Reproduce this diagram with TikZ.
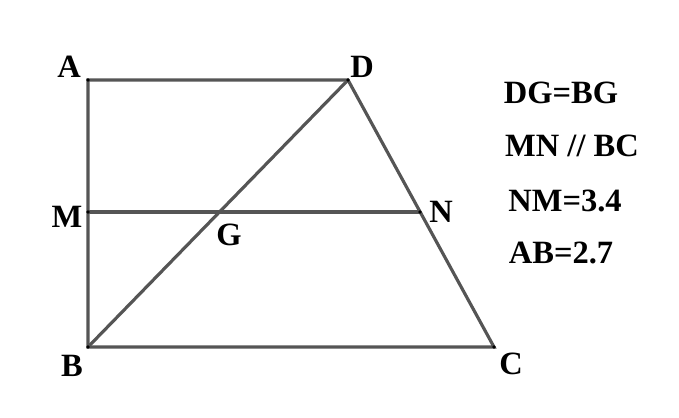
\documentclass[tikz,border=0pt]{standalone}
\usepackage{fontspec}
\setmainfont{Liberation Serif}
\usepackage{tikz}
\definecolor{edge}{RGB}{85,85,85}

\begin{document}
\begin{tikzpicture}[x=0.02cm, y=-0.02cm,
  seg/.style={draw=edge, line width=1.8pt},
  pt/.style={font=\fontsize{18.5}{20}\selectfont\bfseries, inner sep=0pt},
  note/.style={font=\fontsize{18.5}{20}\selectfont\bfseries, inner sep=0pt}]
  \useasboundingbox (0,0) rectangle (679,417);
  % vertices
  \coordinate (A) at (88,80);
  \coordinate (D) at (348,80);
  \coordinate (B) at (88,347);
  \coordinate (C) at (494,347);
  \coordinate (M) at (88,212);
  \coordinate (N) at (420,212);
  \coordinate (G) at (217,212);
  % sides
  \draw[seg] (A) -- (D) -- (C) -- (B) -- cycle;
  \draw[seg] (M) -- (N);
  \draw[seg] (B) -- (D);
  \foreach \p in {A,B,C,D,M,N}
    \fill (\p) circle (1.1pt);
  % labels
  \node (lA) [pt] at (69,67) {A};
  \node (lD) [pt] at (362,67) {D};
  \node (lM) [pt] at (67,217) {M};
  \node (lG) [pt] at (229,235) {G};
  \node (lN) [pt] at (441,212) {N};
  \node (lB) [pt] at (72,366) {B};
  \node (lC) [pt] at (511,364) {C};
  % given data
  \node (t1) [note] at (561,93) {DG=BG};
  \node (t2) [note] at (572,146) {MN // BC};
  \node (t3) [note] at (565,201) {NM=3.4};
  \node (t4) [note] at (561,253) {AB=2.7};
\end{tikzpicture}
\end{document}
